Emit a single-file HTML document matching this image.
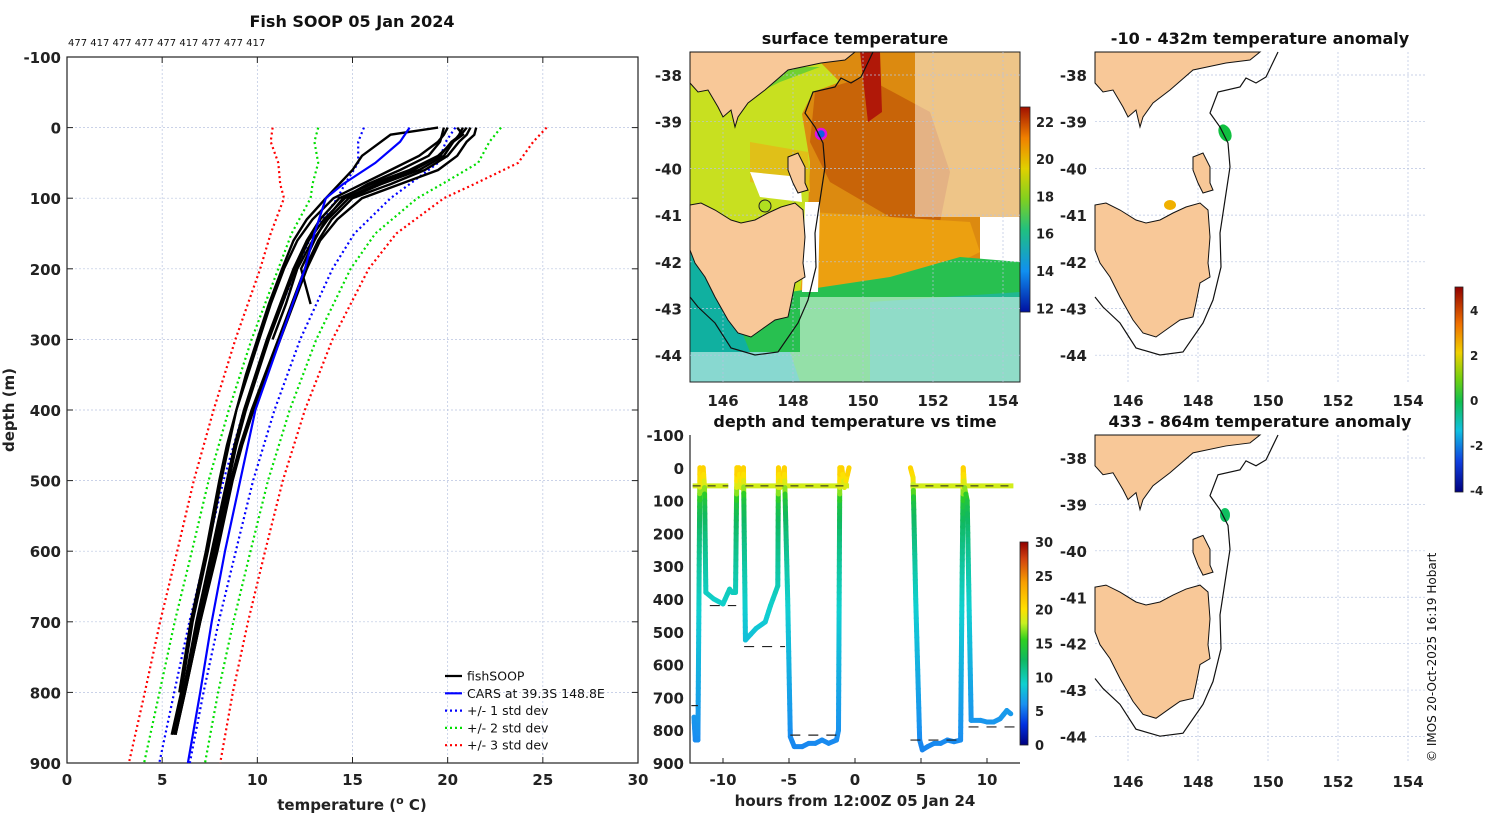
<!DOCTYPE html>
<html><head><meta charset="utf-8"><style>
body{margin:0;background:#fff;}
svg{display:block;font-family:"DejaVu Sans","Liberation Sans",sans-serif;}
.t{font-weight:bold;font-size:15px;fill:#222;}
.ti{font-weight:bold;font-size:16px;fill:#111;}
.lg{font-size:12.5px;fill:#111;}
.grid{stroke:#b8c4e0;stroke-width:0.7;stroke-dasharray:2,2;}
</style></head><body>
<svg id="fig" width="1500" height="820" viewBox="0 0 1500 820">
<defs>
<linearGradient id="tcb" x1="0" y1="1" x2="0" y2="0">
<stop offset="0" stop-color="#00007f"/><stop offset="0.1" stop-color="#0030e0"/><stop offset="0.2" stop-color="#1a90f0"/><stop offset="0.3" stop-color="#10d0d0"/><stop offset="0.42" stop-color="#10b860"/><stop offset="0.52" stop-color="#30d020"/><stop offset="0.6" stop-color="#c8f020"/><stop offset="0.67" stop-color="#ffe000"/><stop offset="0.8" stop-color="#f8a000"/><stop offset="0.92" stop-color="#d04010"/><stop offset="1" stop-color="#900000"/>
</linearGradient>
<linearGradient id="scb" x1="0" y1="1" x2="0" y2="0">
<stop offset="0" stop-color="#0010a0"/><stop offset="0.2" stop-color="#1090f0"/><stop offset="0.4" stop-color="#20c080"/><stop offset="0.55" stop-color="#80d020"/><stop offset="0.7" stop-color="#e0d000"/><stop offset="0.85" stop-color="#f08000"/><stop offset="1" stop-color="#a01000"/>
</linearGradient>
<linearGradient id="acb" x1="0" y1="1" x2="0" y2="0">
<stop offset="0" stop-color="#00007f"/><stop offset="0.15" stop-color="#1040e0"/><stop offset="0.3" stop-color="#10c0e0"/><stop offset="0.44" stop-color="#10c050"/><stop offset="0.55" stop-color="#70d010"/><stop offset="0.68" stop-color="#f0d000"/><stop offset="0.82" stop-color="#f07000"/><stop offset="1" stop-color="#900000"/>
</linearGradient>
</defs>
<g id="left"></g>
<g id="maps"></g>
<g id="mid"></g>
<text x="1436" y="762" transform="rotate(-90 1436 762)" font-size="12" fill="#111">© IMOS 20-Oct-2025 16:19 Hobart</text>
</svg>
<script>
// ---- profile chart data ----
const depthLevels=[0,10,20,40,60,80,100,130,160,200,250,300,350,400,450,500,600,700,800,860];
const fish1=[20.5,20.8,20.3,19.5,18.0,16.0,14.3,13.3,12.6,11.9,11.2,10.5,9.9,9.3,8.8,8.4,7.6,6.8,6.1,5.6];
const fish2=[21.2,21.0,20.6,20.0,18.8,17.0,15.0,13.9,13.2,12.5,11.8,11.1,10.4,9.7,9.1,8.6,7.8,7.0,6.2,5.7];
const fish3=[19.5,17.0,16.5,15.5,15.0,14.3,13.6,12.6,11.9,11.3,10.6,10.0,9.4,8.9,8.4,8.0,7.3,6.5,5.9];
const fish4=[21.5,21.4,21.0,20.5,19.5,17.5,15.5,14.2,13.3,12.6,11.9,11.2,10.5,9.8,9.2,8.7,7.9,7.0,6.2,5.7];
const fish5=[20.0,19.8,19.5,18.5,17.0,15.5,14.0,12.9,12.1,11.4,10.7,10.1,9.5,8.9,8.5,8.1,7.4,6.6,6.0,5.5];
const fish6=[20.8,20.6,20.3,19.8,18.5,16.5,14.8,13.7,12.9,12.1,11.5,10.8];
const fish7=[19.8,19.7,19.6,19.0,17.5,15.8,14.5,13.6,13.0,12.3,12.8];
const fish8=[21.0,20.7,20.2,19.6,18.2,16.3,14.6,13.5,12.7,12.0,11.3,10.6,10.0,9.4,8.9,8.5,7.7,6.9,6.1];
const carsDepth=[0,20,50,80,100,150,200,300,400,500,600,700,800,900];
const carsTemp=[18.0,17.5,16.2,14.5,13.6,13.0,12.5,11.2,9.9,9.1,8.3,7.6,7.0,6.35];
const stdCenter=[18.0,17.6,17.4,16.3,15.6,14.0,13.0,11.4,10.1,9.0,8.1,7.2,6.4,5.65];
const carsStd=[2.4,2.3,2.1,1.7,1.4,1.1,0.95,0.85,0.8,0.78,0.77,0.77,0.77,0.8];
const tempTicks=[0,5,10,15,20,25,30];
const depthTicks=[-100,0,100,200,300,400,500,600,700,800,900];

const NS="http://www.w3.org/2000/svg";
function mk(parent,tag,attrs,txt){const e=document.createElementNS(NS,tag);for(const k in attrs)e.setAttribute(k,attrs[k]);if(txt!==undefined)e.textContent=txt;parent.appendChild(e);return e;}

const L=document.getElementById('left');
const x0=67,x1=638,y0=57,y1=763;
const xT=t=>x0+t*(x1-x0)/30;
const yD=d=>y0+(d+100)*(y1-y0)/1000;
mk(L,'text',{x:352,y:27,'text-anchor':'middle',class:'ti'},'Fish SOOP 05 Jan 2024');
mk(L,'text',{x:68,y:46,'font-size':'10',fill:'#111'},'477 417 477 477 477 417 477 477 417');
tempTicks.forEach(t=>{if(t>0&&t<30){const g=mk(L,'line',{x1:xT(t),x2:xT(t),y1:y0,y2:y1,class:'grid'});}
 const tx=mk(L,'text',{x:xT(t),y:y1+22,'text-anchor':'middle',class:'t'},t);
 mk(L,'line',{x1:xT(t),x2:xT(t),y1:y0,y2:y0+6,stroke:'#222'});mk(L,'line',{x1:xT(t),x2:xT(t),y1:y1,y2:y1-6,stroke:'#222'});});
depthTicks.forEach(d=>{if(d>-100&&d<900){const g=mk(L,'line',{x1:x0,x2:x1,y1:yD(d),y2:yD(d),class:'grid'});}
 const tx=mk(L,'text',{x:x0-6,y:yD(d)+6,'text-anchor':'end',class:'t'},d);
 mk(L,'line',{x1:x0,x2:x0+6,y1:yD(d),y2:yD(d),stroke:'#222'});mk(L,'line',{x1:x1,x2:x1-6,y1:yD(d),y2:yD(d),stroke:'#222'});});
const fr=mk(L,'rect',{x:x0,y:y0,width:x1-x0,height:y1-y0,fill:'none',stroke:'#222','stroke-width':1.2});

let xl=mk(L,'text',{x:352,y:810,'text-anchor':'middle',class:'t','font-size':'16'});xl.innerHTML='temperature (<tspan dy="-6" font-size="11">o</tspan><tspan dy="6"> C)</tspan>';

let yl=mk(L,'text',{x:14,y:410,'text-anchor':'middle',class:'t',transform:'rotate(-90 14 410)'},'depth (m)');


function pathFrom(ts,ds){return ts.map((t,i)=>(i?'L':'M')+xT(t).toFixed(1)+','+yD(ds[i]).toFixed(1)).join('');}
[[3,'#ff0000'],[2,'#00dd00'],[1,'#0000ff']].forEach(([k,c])=>{
 [-1,1].forEach(s=>{const ts=stdCenter.map((t,i)=>t+s*k*carsStd[i]);
  const p=mk(L,'path',{d:pathFrom(ts,carsDepth),fill:'none',stroke:c,'stroke-width':2.2,'stroke-dasharray':'2,3'});
  });});
[fish1,fish2,fish3,fish4,fish5,fish6,fish7,fish8].forEach((f,i)=>{
 const p=mk(L,'path',{d:pathFrom(f,depthLevels.slice(0,f.length)),fill:'none',stroke:'#000','stroke-width':2.4});
 });
const cp=mk(L,'path',{d:pathFrom(carsTemp,carsDepth),fill:'none',stroke:'#0000ff','stroke-width':2.2});

const legendItems=[['fishSOOP','#000',''],['CARS at 39.3S 148.8E','#0000ff',''],['+/- 1 std dev','#0000ff','2,3'],['+/- 2 std dev','#00dd00','2,3'],['+/- 3 std dev','#ff0000','2,3']];
legendItems.forEach((it,i)=>{const y=676+i*17.3;const g=mk(L,'g',{});
 mk(g,'line',{x1:445,x2:462,y1:y,y2:y,stroke:it[1],'stroke-width':2.2,'stroke-dasharray':it[2]||'none'});
 mk(g,'text',{x:467,y:y+4.5,class:'lg'},it[0]);});

// ---- depth vs time chart data ----
const traceHours=[-12.2,-12.1,-11.9,-11.75,-11.6,-11.5,-11.4,-11.3,-10.7,-10.0,-9.5,-9.3,-9.05,-8.95,-8.8,-8.65,-8.45,-8.3,-7.5,-6.8,-6.4,-5.85,-5.8,-5.65,-5.35,-5.1,-4.9,-4.6,-4.0,-3.5,-3.0,-2.5,-2.0,-1.4,-1.25,-1.15,-1.0,-0.8,-0.45];
const traceDepth=[760,830,830,0,50,0,60,380,400,415,370,380,380,0,0,60,0,525,490,470,420,360,0,60,0,400,820,850,850,840,840,830,840,830,800,0,0,60,0];
const trace2Hours=[4.2,4.4,4.6,4.9,5.1,5.5,6.0,6.5,7.0,7.5,8.0,8.1,8.2,8.3,8.5,8.8,9.5,10.0,10.5,11.0,11.5,11.8];
const trace2Depth=[0,30,400,830,860,850,840,840,830,835,830,400,0,60,100,770,770,775,775,765,740,750];
const surfStart=[-12.3,-8.3,4.2];
const surfEnd=[-9.6,-0.45,12.0];
const surfDepth=55;
const refStart=[-12.4,-11.0,-8.4,-4.9,4.2,8.6];
const refEnd=[-11.9,-9.0,-5.3,-1.2,8.1,12.5];
const refDepth=[725,420,545,815,830,790];
const hourTicks=[-10,-5,0,5,10];
const midDepthTicks=[-100,0,100,200,300,400,500,600,700,800,900];
const tempCbTicks=[0,5,10,15,20,25,30];

const M=document.getElementById('mid');
const mx0=690,mx1=1020,my0=435,my1=763;
const xH=h=>mx0+(h+12.5)*(mx1-mx0)/25;
const yM=d=>my0+(d+100)*(my1-my0)/1000;
const cstops=[[0,[0,0,127]],[3,[0,48,224]],[6,[26,144,240]],[9,[16,208,208]],[12.6,[16,184,96]],[15.6,[48,208,32]],[18,[200,240,32]],[20,[255,224,0]],[24,[248,160,0]],[27.6,[208,64,16]],[30,[144,0,0]]];
function tcol(v){for(let i=1;i<cstops.length;i++){if(v<=cstops[i][0]){const a=cstops[i-1],b=cstops[i],f=(v-a[0])/(b[0]-a[0]);return 'rgb('+a[1].map((c,j)=>Math.round(c+f*(b[1][j]-c))).join(',')+')';}}return 'rgb(144,0,0)';}
function tempAt(d){for(let i=1;i<depthLevels.length;i++){if(d<=depthLevels[i]){const f=(d-depthLevels[i-1])/(depthLevels[i]-depthLevels[i-1]);return fish1[i-1]+f*(fish1[i]-fish1[i-1]);}}return fish1[fish1.length-1];}
mk(M,'text',{x:855,y:427,'text-anchor':'middle',class:'ti'},'depth and temperature vs time');
midDepthTicks.forEach(d=>{const t=mk(M,'text',{x:mx0-6,y:yM(d)+6,'text-anchor':'end',class:'t'},d);});
hourTicks.forEach(h=>{const t=mk(M,'text',{x:xH(h),y:my1+22,'text-anchor':'middle',class:'t'},h);
 mk(M,'line',{x1:xH(h),x2:xH(h),y1:my1,y2:my1-5,stroke:'#222'});});
mk(M,'path',{d:`M${mx0},${my0}V${my1}H${mx1}`,fill:'none',stroke:'#222','stroke-width':1.2});
let hx=mk(M,'text',{x:855,y:806,'text-anchor':'middle',class:'t','font-size':'16'},'hours from 12:00Z 05 Jan 24');
function drawTrace(hs,ds,name){for(let i=1;i<hs.length;i++){const n=Math.max(1,Math.ceil(Math.abs(ds[i]-ds[i-1])/20));
 for(let k=0;k<n;k++){const f0=k/n,f1=(k+1)/n;const h0=hs[i-1]+f0*(hs[i]-hs[i-1]),h1=hs[i-1]+f1*(hs[i]-hs[i-1]),d0=ds[i-1]+f0*(ds[i]-ds[i-1]),d1=ds[i-1]+f1*(ds[i]-ds[i-1]);
 const s=mk(M,'line',{x1:xH(h0),y1:yM(d0),x2:xH(h1),y2:yM(d1),stroke:tcol(tempAt((d0+d1)/2)),'stroke-width':5,'stroke-linecap':'round'});
 }}}
surfStart.forEach((s,i)=>{const l=mk(M,'line',{x1:xH(s),x2:xH(surfEnd[i]),y1:yM(surfDepth),y2:yM(surfDepth),stroke:tcol(tempAt(surfDepth)),'stroke-width':5});});
drawTrace(traceHours,traceDepth,'float-depth-trace');
drawTrace(trace2Hours,trace2Depth,'float-depth-trace');
surfStart.forEach((s,i)=>{mk(M,'line',{x1:xH(s),x2:xH(surfEnd[i]),y1:yM(surfDepth),y2:yM(surfDepth),stroke:'#222','stroke-width':1,'stroke-dasharray':'8,7'});});
refStart.forEach((s,i)=>{const l=mk(M,'line',{x1:xH(s),x2:xH(refEnd[i]),y1:yM(refDepth[i]),y2:yM(refDepth[i]),stroke:'#222','stroke-width':1.2,'stroke-dasharray':'10,8'});});
let cb=mk(M,'rect',{x:1020,y:542,width:8,height:203,fill:'url(#tcb)',stroke:'#222','stroke-width':0.8});
tempCbTicks.forEach(v=>{const y=745-v*203/30;mk(M,'text',{x:1035,y:y+5,'font-size':'13','font-weight':'bold',fill:'#222'},v);});

// ---- maps ----
const G=document.getElementById('maps');
const mainland=[[0,0],[165,0],[165,-2],[155,8],[131,11],[98,18],[75,38],[58,51],[48,65],[45,75],[41,58],[33,65],[28,55],[18,38],[8,40],[0,31]];
const tas=[[0,153],[11,151],[25,158],[41,168],[51,171],[65,168],[78,161],[91,155],[105,151],[113,158],[115,185],[113,211],[115,225],[105,231],[101,251],[98,265],[85,268],[75,275],[61,285],[48,281],[38,268],[25,245],[15,225],[5,211],[0,198]];
const flinders=[[98,105],[108,101],[115,115],[115,131],[118,138],[108,141],[103,131],[98,118]];
const isobath=[[183,0],[171,25],[161,31],[151,26],[145,35],[123,40],[115,61],[125,75],[133,91],[135,115],[130,148],[125,181],[126,215],[118,248],[108,271],[88,300],[65,303],[41,296],[25,271],[8,255],[0,245]];
const lonTicks=[146,148,150,152,154];
const latTicks=[-38,-39,-40,-41,-42,-43,-44];
function poly(pts,ox,oy){return pts.map(p=>(p[0]+ox)+','+(p[1]+oy)).join(' ');}
function mapPanel(ox,oy,h,title,name,fill){
 const g=mk(G,'g',{});
 if(fill)fill(g,ox,oy);
 lonTicks.forEach(l=>{const x=ox+33+(l-146)*35;mk(g,'line',{x1:x,x2:x,y1:oy,y2:oy+h,class:'grid'});mk(g,'text',{x:x,y:oy+h+24,'text-anchor':'middle',class:'t'},l);});
 latTicks.forEach(l=>{const y=oy+23+(-38-l)*46.7*(h/330);mk(g,'line',{x1:ox,x2:ox+330,y1:y,y2:y,class:'grid'});mk(g,'text',{x:ox-8,y:y+6,'text-anchor':'end',class:'t'},l);});
 const s=h/330;
 mk(g,'polygon',{points:mainland.map(p=>(p[0]+ox)+','+(Math.max(0,p[1])*s+oy)).join(' '),fill:'#f8c898',stroke:'#111','stroke-width':1});
 mk(g,'polygon',{points:tas.map(p=>(p[0]+ox)+','+(p[1]*s+oy)).join(' '),fill:'#f8c898',stroke:'#111','stroke-width':1});
 mk(g,'polygon',{points:flinders.map(p=>(p[0]+ox)+','+(p[1]*s+oy)).join(' '),fill:'#f8c898',stroke:'#111','stroke-width':1});
 mk(g,'polyline',{points:isobath.map(p=>(p[0]+ox)+','+(p[1]*s+oy)).join(' '),fill:'none',stroke:'#111','stroke-width':1.2});
 mk(g,'text',{x:ox+165,y:oy-8,'text-anchor':'middle',class:'ti'},title);
 return g;}
mapPanel(690,52,330,'surface temperature','surface-temperature-map',(g,ox,oy)=>{
 mk(g,'rect',{x:ox,y:oy,width:330,height:330,fill:'#dc8a10'});
 mk(g,'polygon',{points:poly([[0,20],[130,10],[150,30],[123,40],[112,62],[120,110],[118,160],[112,240],[0,240]],ox,oy),fill:'#c8e020'});
 mk(g,'polygon',{points:poly([[20,40],[100,15],[130,15],[90,30],[40,55]],ox,oy),fill:'#70d030'});
 mk(g,'polygon',{points:poly([[60,90],[118,100],[120,140],[60,130]],ox,oy),fill:'#e0c018'});
 mk(g,'polygon',{points:poly([[125,40],[175,25],[240,60],[260,120],[250,170],[200,165],[140,130],[120,90]],ox,oy),fill:'#c86408'});
 mk(g,'polygon',{points:poly([[170,0],[190,0],[192,60],[178,70]],ox,oy),fill:'#b01808'});
 mk(g,'polygon',{points:poly([[120,160],[200,165],[280,170],[290,200],[260,215],[200,240],[130,270],[110,240]],ox,oy),fill:'#eca010'});
 mk(g,'rect',{x:ox+225,y:oy,width:105,height:165,fill:'#fff',opacity:0.5});
 mk(g,'rect',{x:ox+290,y:oy+165,width:40,height:75,fill:'#fff'});
 mk(g,'polygon',{points:poly([[100,240],[200,225],[270,205],[330,210],[330,330],[0,330],[0,240]],ox,oy),fill:'#28c050'});
 mk(g,'polygon',{points:poly([[180,250],[330,240],[330,330],[180,330]],ox,oy),fill:'#20b890'});
 mk(g,'polygon',{points:poly([[0,180],[20,200],[60,300],[100,300],[110,330],[0,330]],ox,oy),fill:'#10b0a0'});
 mk(g,'rect',{x:ox+110,y:oy+245,width:220,height:85,fill:'#fff',opacity:0.5});
 mk(g,'polygon',{points:poly([[115,150],[130,150],[128,240],[112,240]],ox,oy),fill:'#fff'});
 mk(g,'polygon',{points:poly([[60,120],[110,125],[112,150],[70,145]],ox,oy),fill:'#fff'});
 mk(g,'rect',{x:ox,y:oy+300,width:110,height:30,fill:'#fff',opacity:0.5});
 mk(g,'circle',{cx:ox+131,cy:oy+82,r:5,fill:'#1060e0',stroke:'#e010e0','stroke-width':2.5});
 mk(g,'circle',{cx:ox+75,cy:oy+154,r:6,fill:'#b0e020',stroke:'#222','stroke-width':1});
 mk(g,'rect',{x:ox,y:oy,width:330,height:330,fill:'none',stroke:'#222','stroke-width':1});
 const c=mk(g,'rect',{x:1020,y:107,width:10,height:205,fill:'url(#scb)',stroke:'#222','stroke-width':0.8});
 [12,14,16,18,20,22].forEach(v=>{const y=312-(v-11.8)*205/11;mk(g,'text',{x:1036,y:y+5,'font-size':'13','font-weight':'bold',fill:'#222'},v);});
});
mapPanel(1095,52,330,'-10 - 432m temperature anomaly','anomaly-map-shallow',(g,ox,oy)=>{
 mk(g,'ellipse',{cx:1225,cy:133,rx:6,ry:9,fill:'#10c040',transform:'rotate(-25 1225 133)'});mk(g,'ellipse',{cx:1170,cy:205,rx:6,ry:5,fill:'#f0b000'});});
mapPanel(1095,435,328,'433 - 864m temperature anomaly','anomaly-map-deep',(g,ox,oy)=>{
 mk(g,'ellipse',{cx:1225,cy:515,rx:5,ry:7,fill:'#10c060'});});
const ac=mk(G,'rect',{x:1455,y:287,width:8,height:205,fill:'url(#acb)',stroke:'#222','stroke-width':0.8});

[4,2,0,-2,-4].forEach(v=>{const y=400-v*22.5;mk(G,'text',{x:1470,y:y+5,'font-size':'12','font-weight':'bold',fill:'#222'},v);});
</script>
</body></html>
